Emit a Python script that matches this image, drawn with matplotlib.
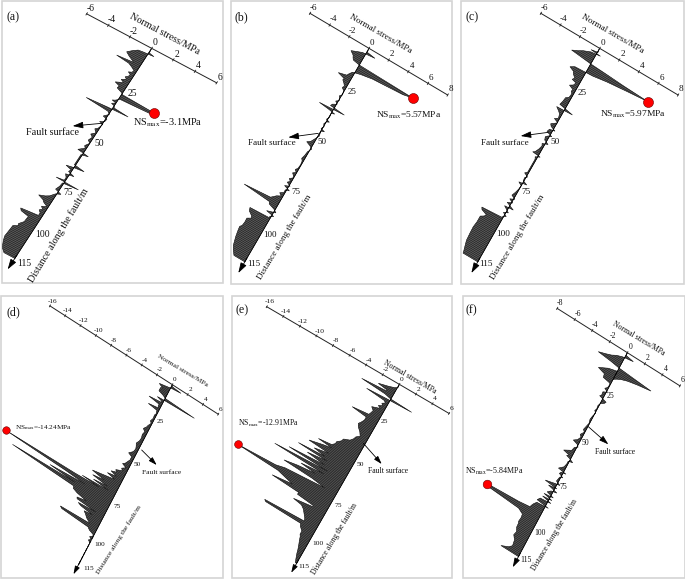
import matplotlib
matplotlib.use("Agg")
import matplotlib.pyplot as plt
from matplotlib.transforms import Affine2D
from matplotlib.patches import Polygon, Rectangle
import numpy as np

plt.rcParams['font.family'] = ['Liberation Serif', 'DejaVu Serif']
plt.rcParams['mathtext.fontset'] = 'stix'

# (distance along the fault / m, normal stress / MPa)
profile_a = [(0,0),(2.4,.05),(2.9,.53),(3.3,-.4),(3.6,-.84),(5,-1.2),(6.8,-1.56),(8,-1.2),(8.8,-.9),(9.6,-.6),(10.3,-2.1),(11,-.9),(12,-.5),(13,-.2),(14,-.3),(14.6,-.55),(15.2,-.3),(16.5,-.35),(17.3,-.55),(18,-.35),(19.2,-.7),(20,-.4),(21.5,-1.0),(22.3,-.55),(23.5,-.6),(24.5,-.1),(25.2,.1),(25.8,3.05),(26.9,2.85),(27.6,.1),(29,-.2),(29.5,-.4),(30,0),(31,-.3),(31.5,0),(32.4,.1),(33,1.45),(33.4,-.4),(34.1,-2.3),(35,-.2),(36,.05),(38,-.3),(38.5,.1),(40,.05),(41,-.3),(41.5,.05),(44,-.1),(45,-.3),(46.5,-.05),(48,-.35),(49,-.1),(51,-.25),(52,0),(54,-.25),(55,-.1),(57,-.55),(57.8,.5),(58.5,-.1),(60,-.1),(62,-.1),(64,-.1),(64.8,.88),(65.4,-.1),(66,-.65),(66.8,-.1),(68,-.2),(69,.4),(69.6,-.3),(71,-.1),(72.5,-.1),(73,-.8),(73.4,1.3),(74,-.1),(76,-.15),(78,-.3),(79,.3),(80,-.1),(82,-.4),(83,-.7),(84,-1.2),(85,-.7),(86,-.5),(87,-.1),(88,-.5),(89,-.3),(90,-.5),(91,-.3),(92.4,-.3),(93.2,-1.85),(94.2,-1.7),(95,-.95),(98,-1.0),(100,-1.3),(101,-1.25),(102,-1.6),(105,-1.65),(108,-1.7),(110,-1.6),(112,-1.45),(113.5,-1.3),(115,-1.0),(115,0)]
profile_b = [(0,0),(2,.05),(2.6,.89),(3.2,-.3),(4,-.7),(5.2,-1.26),(6.5,-.9),(7.5,-.8),(8.4,-.67),(9,0),(9.5,5.5),(10.5,4.6),(11.5,1.6),(12.5,.5),(13.5,-.2),(15,-.4),(16,-.5),(17,-1.25),(18,-.55),(18.8,-.6),(20,-.35),(21,-.2),(22,-.3),(23,-.05),(25,.05),(26,-.15),(28,.05),(29,-.2),(30,.05),(31,-.3),(32,-.4),(32.6,1.07),(33.4,-1.38),(34,-.3),(34.5,.3),(35,0),(37,.05),(38.5,-.1),(39,.25),(39.6,0),(41,-.1),(42,.05),(43.5,-.1),(44,.3),(44.6,0),(47,.1),(49,-.1),(51,-.3),(52.2,-.6),(53,-.2),(54,.1),(56,-.1),(58,-.15),(60,-.25),(61,-.1),(63,-.05),(65,-.1),(66,-.25),(67,-.05),(68,-.3),(69,-.1),(70,-.05),(71,-.3),(72,-.1),(73,-.3),(74,.1),(75,-.35),(76,.25),(76.5,-.1),(78,-.1),(79,-.4),(80,-.15),(81,-.5),(82,-.7),(83,-.9),(84,-3.47),(85,-.8),(86,-.7),(87,-.1),(88,.2),(89.3,-.6),(90,.2),(90.7,-.1),(91.5,-.1),(92,-2.0),(93.5,-1.9),(95,-1.5),(96,-1.45),(97,-1.77),(99,-1.75),(101,-1.8),(102,-1.95),(104,-1.9),(107,-1.8),(110,-1.65),(111,-1.6),(113,-1.39),(115,-1.1),(115,0)]
profile_c = [(0,0),(2,.05),(2.6,-.6),(3,.4),(3.5,-.5),(4.9,-1.15),(6,-1.5),(7.4,-2.06),(8,-.8),(8.4,0),(8.8,1.5),(9.4,3.5),(9.9,5.97),(10.8,4.0),(11.8,2.0),(12.8,.7),(13.3,-1.08),(14.5,-1.46),(15.5,-1.0),(16.5,-.9),(18,-.6),(19,-.75),(19.6,-.3),(21,-.4),(22,-.7),(23,-.25),(24,-.3),(25,-.15),(27,-.2),(28,-.45),(30,-.5),(31,-.55),(32,-.6),(33.3,.82),(33.7,-.74),(35,-.4),(36,-.2),(38,-.1),(39,-.4),(40,.05),(41,-.2),(42,-.45),(43,-.3),(44,.2),(44.5,-.3),(46,-.4),(47,.2),(47.5,-.1),(48.5,-.3),(50,-.2),(51,.25),(52,-.25),(53,-.15),(55,-.25),(57,-.43),(57.6,-.6),(58,.2),(59,-.2),(60,-.1),(62,-.1),(64,-.1),(66,-.1),(67,-.1),(68,-.3),(69,.1),(70,-.1),(71.5,-.05),(72.4,.39),(73,-.35),(74,0),(76,-.05),(78,-.15),(80,-.3),(81,.1),(82,-.3),(83,.1),(84,-.35),(85.7,.45),(86,-.4),(87,-.1),(88,.2),(89,-.2),(90,.2),(90.6,-.05),(91.3,-.1),(92,-2.07),(93,-1.95),(94,-1.4),(95,-1.5),(96,-1.8),(99,-1.8),(102,-1.87),(105,-1.85),(109,-1.8),(111,-1.7),(114,-1.54),(115,-1.5),(115,0)]
profile_d = [(0,0),(1,.1),(1.5,1.29),(2,.2),(3.4,-1.34),(4.5,-.8),(5,-1.0),(7,-1.0),(8,-.3),(8.8,0),(9.3,3.87),(10,0),(10.3,-.86),(11,-.3),(11.8,-.1),(12.6,-1.7),(13.4,-.3),(14.6,-.3),(15.4,-.15),(16.3,-1.4),(17,-.2),(19,-.1),(20,-.2),(22,-.15),(24,-.3),(25,-.1),(27,-.3),(28,-.35),(29.8,-.6),(31,-.3),(33,-.4),(35,-.3),(37,-.35),(39,-.55),(40.5,-.4),(42,-.3),(44,-.4),(46,-.8),(47,-.3),(49,-.3),(50,-.4),(51,-.5),(52,-.6),(53,-.85),(54,-.3),(55.5,-.7),(56.5,-.5),(58,-1.2),(59,-1.0),(60,-1.6),(61,-.8),(62,-1.87),(63,-.8),(65.4,-3.47),(66.5,-1.8),(67.5,-3.2),(68.5,-1.2),(69.4,-2.9),(70.2,-.9),(71,-4.2),(71.5,-2.0),(72.2,-5),(73,-14),(73.8,-6),(74.4,-3.5),(75.8,-7.9),(76.6,-4.6),(77.7,-12.6),(78.7,-4.5),(80,-4.4),(81,-3.8),(82,-2.5),(83,-3.6),(83.8,-3.5),(84.4,-1.0),(85.2,-3.2),(86,-2.8),(86.8,-1.2),(87.4,-2.2),(88.5,-1.9),(90,-1.6),(91.7,-1.0),(92.4,-4.77),(93.2,-4.5),(93.9,-1.0),(95,-.7),(96,-.1),(97,-.05),(98,-.35),(99,-.05),(100,-.3),(101,0),(115,0)]
profile_e = [(0,0),(2,.05),(3,-.3),(4,-.9),(5.4,-1.95),(6.2,-.8),(6.8,-.9),(7.7,-3.71),(8.6,-.8),(9.5,0),(10,2.56),(10.5,-.5),(11.1,-2.75),(12,-.5),(13,-.3),(14,-.6),(15,-.4),(16,-.8),(17,-.5),(18.5,-1.34),(20,-1),(21.7,-1.1),(23,-1.2),(24,-3.1),(25,-1.3),(27,-1.3),(29,-1.5),(30.3,-1.68),(32,-1.5),(34,-1.1),(36,-.85),(37.5,-1.2),(39,-1.3),(40.7,-1.56),(42,-2.2),(43.5,-2.3),(45.2,-2.69),(46.5,-2.7),(48,-3.0),(48.8,-4.5),(49.6,-2.8),(50.5,-3.8),(52.2,-5.27),(53,-2.8),(54.5,-4.4),(55.6,-3.0),(56.4,-6.1),(57.2,-2.6),(58.5,-4.8),(59.8,-2.6),(61,-6.73),(62,-2),(63.4,-8.2),(64.3,-2.2),(65.5,-4.8),(66.5,-3.0),(67.5,-5),(68.8,-6.5),(69.7,-3),(70.8,-1.4),(72.3,-6.0),(73.5,-7),(74.3,-11.5),(75.5,-6.5),(76.8,-5.5),(78,-4.5),(79.3,-6.8),(80.3,-3.5),(81.5,-3.5),(82.5,-1.5),(83.2,-1.5),(84.6,-3.65),(85.5,-2.6),(87,-2.2),(89,-1.9),(91,-1.6),(92.5,-1.5),(93.2,-6.2),(94,-6.0),(94.6,-1.7),(96,-1.6),(98,-1.2),(100,-1.2),(101,-1.07),(103,-.95),(105,-.8),(108,-.6),(110,-.5),(113,-.3),(115,-.15),(115,0)]
profile_f = [(0,0),(1.5,.05),(2.2,.92),(3,-.2),(4,-.8),(5.2,-1.23),(6.2,-1.8),(7.3,-2.52),(8,-1),(8.7,0),(9.9,3.77),(11,2.3),(12,1.3),(13,.7),(14,.3),(15,0),(10.5,0),(11.6,-.9),(13.9,-1.8),(15,-1.0),(16.8,-.93),(17.5,-.1),(18.5,-.05),(20,-.1),(21,-.3),(22,.1),(23,-.3),(24.7,-.26),(25.5,-.4),(26.6,.45),(27.5,.35),(28.5,.05),(30,-.1),(32,-.05),(33,-.15),(34,.05),(36,-.08),(38,-.15),(40,-.05),(42,-.15),(44,-.25),(45,-.05),(47,-.3),(48,-.1),(50,-.3),(51.2,-.63),(52,-.1),(53,.1),(54,-.2),(56,-.3),(58,-1),(58.7,-.3),(59.5,-.5),(60,-.1),(61,.35),(61.5,-.1),(63,-.1),(65,-.2),(67,-.62),(67.6,.3),(68,-.2),(69,-.3),(70,.2),(70.5,-.1),(73,-.2),(74,.3),(74.4,-.2),(75.6,-1.2),(76.2,.2),(76.8,-.7),(78,.38),(78.6,-.2),(80,-.5),(81,.3),(81.5,-.7),(82.5,.3),(83,-.7),(84,.35),(84.5,-.8),(86,-1),(86.7,.35),(87.2,-.9),(88.5,-1.1),(89.5,-1.2),(90.9,-1.3),(91.6,-2.5),(92.5,-5.97),(93.5,-5.8),(94.5,-2.2),(96,-1.6),(98,-1.55),(100,-1.6),(101,-1.52),(103,-1.5),(105,-1.3),(107,-1.4),(109,-1.1),(110.8,-1.04),(112,-1.0),(113.5,-1.3),(115,-2),(115,0)]

stress_ticks_ac = [-6, -4, -2, 0, 2, 4, 6]
stress_ticks_bc = [-6, -4, -2, 0, 2, 4, 6, 8]
stress_ticks_de = [-16, -14, -12, -10, -8, -6, -4, -2, 0, 2, 4, 6]
stress_ticks_f = [-8, -6, -4, -2, 0, 2, 4, 6]
distance_ticks = [25, 50, 75, 100, 115]
ns_labels = ['-3.1', '5.57', '5.97', '-14.24', '-12.91', '-5.84']

# layout below is in 3x zoom units relative to each panel's offset
panels = [
 dict(tag='(a)', off=(0,0), frame=(2,1,223,283), O=(455,145), U=(32.5,17.25), V=(-3.57,5.48), data=profile_a, ticks=stress_ticks_ac,
      tagxy=(40,52), axlab=(495,103), axrot=-28, dl=(175,705), drot=59, ns=(400,368), ft=(159,398), fa=((305,370),(218,378)),
      dlabs=[(397,280),(298,432),(203,578),(127,703),(72,790)], fs=6.9, lfs=7.3, nsfs=7.4, dot=7.2, head=9, dash=None),
 dict(tag='(b)', off=(225,0), frame=(231,1,452,284), O=(432,145), U=(29.5,17.5), V=(-3.24,5.57), data=profile_b, ticks=stress_ticks_bc,
      tagxy=(50,52), axlab=(468,103), axrot=-30, dl=(180,710), drot=59, ns=(452,345), ft=(140,430), fa=((280,400),(190,412)),
      dlabs=[(380,275),(292,425),(212,575),(135,705),(85,793)], fs=6.5, lfs=6.6, nsfs=6.8, dot=7.2, head=9, dash=None),
 dict(tag='(c)', off=(455,0), frame=(461,1,684,284), O=(434,145), U=(29.4,17.5), V=(-3.18,5.57), data=profile_c, ticks=stress_ticks_bc,
      tagxy=(50,52), axlab=(472,103), axrot=-30, dl=(187,710), drot=59, ns=(435,342), ft=(150,428), fa=((280,397),(197,408)),
      dlabs=[(380,280),(300,425),(213,577),(143,703),(93,792)], fs=6.6, lfs=6.6, nsfs=6.8, dot=7.2, head=9, dash=None),
 dict(tag='(d)', off=(0,290), frame=(1,296,223,578), O=(517,284), U=(22.95,14.77), V=(-2.45,4.7), data=profile_d, ticks=stress_ticks_de,
      tagxy=(40,68), axlab=(548,243), axrot=-31, dl=(355,750), drot=58, ns=(45,412), ft=(484,547), fa=((425,480),(470,525)),
      dlabs=[(482,395),(412,523),(352,650),(300,763),(265,835)], fs=5.2, lfs=5.4, nsfs=5.2, dot=5.4, head=7, dash=97),
 dict(tag='(e)', off=(225,290), frame=(232,296,452,578), O=(523,283), U=(24.86,14.55), V=(-2.68,4.67), data=profile_e, ticks=stress_ticks_de,
      tagxy=(50,62), axlab=(555,260), axrot=-30, dl=(330,748), drot=59, ns=(40,400), ft=(490,543), fa=((415,460),(470,522)),
      dlabs=[(478,395),(407,522),(340,647),(278,760),(238,828)], fs=5.4, lfs=5.6, nsfs=5.6, dot=5.6, head=7, dash=None),
 dict(tag='(f)', off=(455,290), frame=(463,296,685,578), O=(517,188), U=(26.3,16.6), V=(-2.84,5.32), data=profile_f, ticks=stress_ticks_f,
      tagxy=(48,60), axlab=(550,145), axrot=-31, dl=(300,735), drot=59, ns=(30,545), ft=(480,487), fa=((400,410),(460,463)),
      dlabs=[(467,318),(392,460),(325,592),(255,730),(213,810)], fs=5.6, lfs=5.6, nsfs=5.8, dot=6.2, head=8, dash=None),
]

fig = plt.figure(figsize=(6.85, 5.8), dpi=100)
ax = fig.add_axes([0, 0, 1, 1])
ax.axis('off')

for i, p in enumerate(panels):
    ox, oy = p['off']
    def px(pt):
        return (pt[0] / 3 + ox, pt[1] / 3 + oy)
    x0, y0, x1, y1 = p['frame']
    ax.add_patch(Rectangle((x0, y0), x1 - x0, y1 - y0, fill=False, ec='#d4d4d4', lw=1.2))
    O = px(p['O'])
    U, V = p['U'], p['V']
    T = Affine2D.from_values(V[0] / 3, V[1] / 3, U[0] / 3, U[1] / 3, O[0], O[1]) + ax.transData

    dist = np.array([q[0] for q in p['data']])
    ns = np.array([q[1] for q in p['data']])

    # profile
    poly = Polygon(np.column_stack([dist, ns]), closed=True, transform=T, fc='#5a5a5a', ec='#111111', lw=0.4, zorder=3)
    ax.add_patch(poly)
    stripes = ax.vlines(np.arange(0, 115.5, 0.8), ns.min(), ns.max(), transform=T, colors='#1a1a1a', lw=0.45, zorder=4)
    stripes.set_clip_path(poly)

    # fault line + arrow
    end = p['dash'] if p['dash'] else 115
    ax.plot([0, end], [0, 0], transform=T, color='k', lw=0.5, zorder=5)
    if p['dash']:
        ax.plot([end, 115], [0, 0], transform=T, color='k', lw=0.7, ls=(0, (3, 1.5)), zorder=5)
    ax.annotate('', xy=(121, 0), xytext=(113, 0), xycoords=T, textcoords=T, zorder=5,
                arrowprops=dict(arrowstyle='-|>,head_width=0.22,head_length=0.7', color='k', lw=0.6, mutation_scale=p['head'], shrinkA=0, shrinkB=0))

    # stress axis
    t = p['ticks']
    ax.plot([0, 0], [t[0], t[-1]], transform=T, color='#222222', lw=0.7, zorder=5)
    for v in t:
        ax.plot([-0.6, 0.6], [v, v], transform=T, color='#222222', lw=0.6, zorder=5)
        ax.text(-3.1, v, str(v), transform=T, ha='center', va='center', fontsize=p['fs'], color='#111111')

    # distance tick labels
    for lab, xy in zip(distance_ticks, p['dlabs']):
        X, Y = px(xy)
        ax.text(X, Y, str(lab), ha='center', va='center', fontsize=p['fs'], color='#111111')

    # max marker
    k = int(np.argmax(np.abs(ns)))
    ax.plot([dist[k]], [ns[k]], 'o', transform=T, ms=p['dot'], mfc='#ff0000', mec='#660000', mew=0.4, zorder=6)

    # annotations
    X, Y = px(p['tagxy'])
    ax.text(X, Y, p['tag'], ha='center', va='center', fontsize=8.6, color='#111111')
    X, Y = px(p['axlab'])
    ax.text(X, Y, 'Normal stress/MPa', ha='center', va='center', rotation=p['axrot'], rotation_mode='anchor',
            fontsize=p['lfs'], color='#111111')
    X, Y = px(p['dl'])
    ax.text(X, Y, 'Distance along the fault/m', ha='center', va='center', rotation=p['drot'], rotation_mode='anchor',
            fontsize=p['lfs'], color='#111111')
    X, Y = px(p['ns'])
    ax.text(X, Y, 'NS$_{\\mathrm{max}}$=' + ns_labels[i] + 'MPa', ha='left', va='center', fontsize=p['nsfs'], color='#111111')
    X, Y = px(p['ft'])
    ax.text(X, Y, 'Fault surface', ha='center', va='center', fontsize=p['lfs'], color='#111111')
    a, b = p['fa']
    ax.annotate('', xy=px(b), xytext=px(a), zorder=5,
                arrowprops=dict(arrowstyle='-|>,head_width=0.22,head_length=0.7', color='k', lw=0.6, mutation_scale=p['head'], shrinkA=0, shrinkB=0))

ax.set_xlim(0, 685)
ax.set_ylim(580, 0)
fig.savefig('out.png', dpi=100, facecolor='white')
